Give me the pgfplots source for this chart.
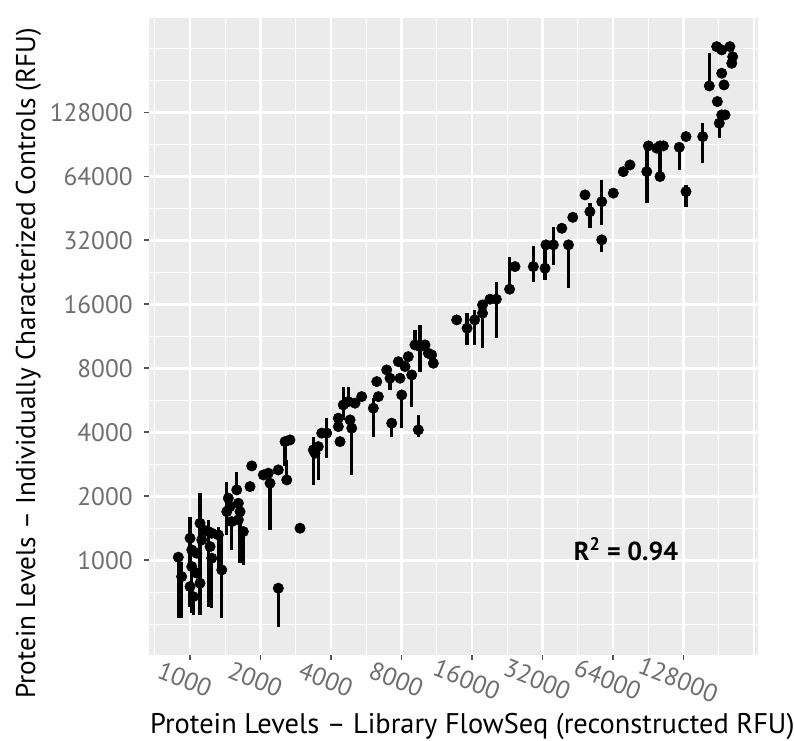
\documentclass[border=0pt]{standalone}
\usepackage{fontspec}
\setmainfont{PT Sans}
\usepackage{pgfplots}
\usepackage{pgfplotstable}
\pgfplotsset{compat=1.18}
\definecolor{panelbg}{HTML}{EBEBEB}
\definecolor{ticklab}{HTML}{6E6E6E}
\definecolor{tickcol}{HTML}{555555}

\pgfplotstableread{
x y lo hi
891 1035 535 1085
921 839 535 987
1000 1272 935 1607
1017 1120 1120 1120
1017 935 566 935
1000 753 606 753
1033 675 554 675
1068 871 871 871
1103 1496 554 2070
1122 1248 1248 1248
1103 781 781 781
1068 1081 1081 1081
1140 1392 1392 1392
1197 1366 606 1551
1218 1161 1161 1161
1238 1024 596 1024
1238 1342 1342 1342
1321 1318 902 1442
1366 902 535 1318
1435 1696 1318 2348
1457 1961 1961 1961
1506 1522 1120 1522
1482 1791 1791 1791
1583 2146 2146 2617
1608 1858 1858 1858
1635 1696 970 1696
1689 1366 952 1366
1608 1551 1551 1551
1804 2224 2224 2224
1834 2783 2783 2783
2056 2524 2524 2524
2160 2571 2571 2571
2196 2307 1392 2307
2382 2665 2665 2665
2588 2391 2391 2969
2949 1417 1417 1417
2382 740 488 740
2545 3620 2783 3620
2672 3688 3688 3688
3361 3310 2265 3820
3530 3430 2391 3430
3418 3193 3193 3193
3650 3970 3970 3970
3834 3970 3025 4665
4298 4665 4665 4665
4298 4260 4260 4260
4371 3620 3620 3620
4513 5390 4580 6570
4741 5584 5584 6570
4823 4580 4580 4580
4904 4187 2524 4187
5064 5490 5490 5490
5408 5894 5894 5894
6063 5200 3820 5790
6270 6935 6935 6935
6370 5894 5894 5894
6917 7870 7870 7870
7145 7194 6340 7194
7265 4420 3820 4665
7754 8610 8610 8610
7884 7194 7194 7194
8017 6005 4187 6005
8280 8160 8160 8160
8550 9090 9090 9090
8844 7456 5290 7456
9130 10320 10320 12130
9590 10130 7730 12820
10080 10320 10320 10320
10410 9430 9430 9430
10760 9260 9260 9260
10940 8460 8460 8460
9435 4110 3820 4830
13760 13530 13530 13530
15240 12370 10320 14550
16420 13530 10320 15070
17740 14550 9960 14550
17740 15910 15910 15910
19090 16930 16930 16930
20320 16930 11100 20480
23150 18870 18870 26850
24420 24100 24100 24100
29230 24100 20480 30150
32800 23680 20870 31600
33100 30500 30500 30500
35600 30500 24500 37200
38700 36500 36500 36500
41300 30500 19100 32200
43100 41100 41100 41100
48600 52400 52400 52400
51000 43700 36500 47900
57300 48700 37900 61600
57300 32200 28300 32200
64200 53400 53400 53400
70800 67400 67400 67400
75600 72500 72500 72500
89200 67400 48000 89100
90600 89100 89100 89100
98400 86900 86900 86900
101600 89100 71200 89100
105000 89100 89100 89100
101600 63900 63900 82300
122800 87800 68700 87800
131200 98500 98500 98500
131200 54300 46100 58400
154600 98500 73900 113900
165000 170600 170600 243000
177400 261000 261000 261000
186400 252000 252000 252000
202000 261000 261000 261000
207600 234000 234000 234000
205700 218000 218000 218000
186400 195700 195700 195700
190600 172500 172500 172500
178600 144000 144000 144000
186400 124600 124600 124600
182000 113900 97300 113900
192600 124600 124600 124600
}\datatable

\begin{document}
\begin{tikzpicture}
\begin{axis}[
  at={(0,0)}, anchor=south west,
  scale only axis,
  width=456.75pt, height=477.4pt,
  xmode=log, ymode=log,
  xmin=668, xmax=266300, ymin=359, ymax=354300,
  axis background/.style={fill=panelbg},
  axis line style={draw=none},
  xtick={1000,2000,4000,8000,16000,32000,64000,128000},
  xticklabels={1000,2000,4000,8000,16000,32000,64000,128000},
  ytick={1000,2000,4000,8000,16000,32000,64000,128000},
  yticklabels={1000,2000,4000,8000,16000,32000,64000,128000},
  minor xtick={707.1,1414,2828,5657,11314,22627,45255,90510,181019,256000},
  minor ytick={500,707.1,1414,2828,5657,11314,22627,45255,90510,181019,256000},
  grid=both,
  major grid style={white, line width=1.8pt},
  minor grid style={white, line width=0.9pt},
  xtick pos=bottom, ytick pos=left,
  tick align=outside,
  major tick length=3.75pt, minor tick length=0pt,
  major tick style={tickcol, line width=1.4pt},
  ticklabel style={font=\fontsize{19}{19}\selectfont, text=ticklab},
  xticklabel style={yshift=-5pt, rotate=-22, anchor=north},
  yticklabel style={anchor=east, xshift=-5pt},
  xlabel={Protein Levels – Library FlowSeq (reconstructed RFU)},
  ylabel={Protein Levels – Individually Characterized Controls (RFU)},
  xlabel style={font=\fontsize{21.3}{22}\selectfont, text=black,
    at={(axis description cs:0.5309,-0.1230)}, anchor=base},
  ylabel style={font=\fontsize{20.4}{21}\selectfont, text=black,
    at={(axis description cs:-0.1872,0.458)}, anchor=base},
  clip=false,
]
\addplot+[only marks, mark=*, mark size=3.9pt, black,
  mark options={fill=black, draw=black},
  error bars/.cd, y dir=both, y explicit,
  error bar style={line width=2.6pt, black}, error mark=none]
  table[x=x, y=y,
    y error plus expr=\thisrow{hi}-\thisrow{y},
    y error minus expr=\thisrow{y}-\thisrow{lo}] {\datatable};
\node[font=\bfseries\fontsize{19.5}{20}\selectfont] at (axis cs:72700,1133) {R\textsuperscript{2} = 0.94};
\end{axis}
\pgfresetboundingbox
\path[use as bounding box] (-111.75pt,-64.5pt) rectangle (483.75pt,491.25pt);
\end{tikzpicture}
\end{document}
